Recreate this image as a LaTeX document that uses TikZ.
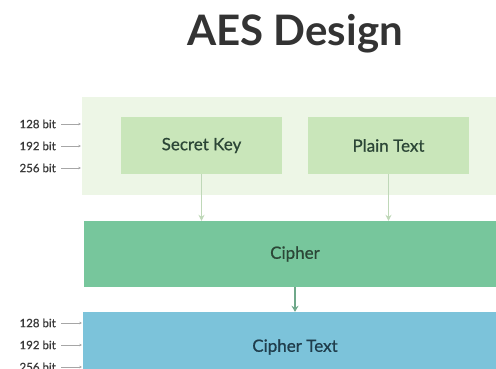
\documentclass[tikz,border=0pt]{standalone}
\usepackage{fontspec}
\setmainfont{Lato}
\newfontfamily\medfont{Lato}[FakeBold=0.7]
\usetikzlibrary{arrows.meta}
\definecolor{outerbg}{HTML}{EDF6E6}
\definecolor{innerbg}{HTML}{C9E6BA}
\definecolor{cipherbg}{HTML}{77C69C}
\definecolor{ctextbg}{HTML}{7CC3DA}
\definecolor{titlecol}{HTML}{333333}
\definecolor{greentext}{HTML}{2B4636}
\definecolor{bluetext}{HTML}{1F3D4C}
\definecolor{lightarrow}{HTML}{BFD8B8}
\definecolor{darkarrow}{HTML}{6FA88A}
\definecolor{labelcol}{HTML}{3A3A3A}
\tikzset{
  box/.style={draw=none, inner sep=0pt, align=center},
  boxtext/.style={font=\medfont\fontsize{17}{20}\selectfont},
  bitlabel/.style={font=\medfont\fontsize{11.5}{13}\selectfont, text=labelcol, anchor=east, inner sep=0pt},
  bitarrow/.style={draw=gray!70, line width=0.6pt, -{Stealth[length=2.5pt,width=2.5pt]}, shorten <=5pt, shorten >=1pt},
  lightflow/.style={draw=lightarrow, line width=1.6pt, -{Stealth[length=6pt,width=6pt]}},
  darkflow/.style={draw=darkarrow, line width=1.8pt, -{Stealth[length=6pt,width=7pt]}}
}
\begin{document}
\begin{tikzpicture}[x=1pt,y=-1pt]
\useasboundingbox (0,0) rectangle (496,369);
\fill[white] (0,0) rectangle (496,369);
% title
\node[font=\fontsize{42}{48}\bfseries\selectfont, text=titlecol] (title) at (295,34) {AES Design};
% outer light box
\node[box, fill=outerbg, minimum width=426pt, minimum height=98pt] (outer) at (295,146) {};
% inner boxes
\node[box, boxtext, fill=innerbg, text=greentext, minimum width=161pt, minimum height=57pt] (sk) at (201.5,145.5) {Secret Key};
\node[box, boxtext, fill=innerbg, text=greentext, minimum width=161pt, minimum height=57pt] (pt) at (388.5,145.5) {Plain Text};
% cipher
\node[box, boxtext, fill=cipherbg, text=greentext, minimum width=422pt, minimum height=66pt] (cipher) at (295,254) {Cipher};
% cipher text
\node[box, fill=ctextbg, minimum width=424pt, minimum height=80pt] (ctext) at (295,352) {};
\node[boxtext, text=bluetext, inner sep=0pt] (ctextlabel) at (295,347) {Cipher Text};
% flow arrows
\draw[lightflow] (sk.south) -- (sk.south |- cipher.north);
\draw[lightflow] (pt.south) -- (pt.south |- cipher.north);
\draw[darkflow] (cipher.south) -- (ctext.north);
% bit labels top
\node[bitlabel] (a1) at (56,124) {128 bit};
\node[bitlabel] (a2) at (56,146) {192 bit};
\node[bitlabel] (a3) at (56,168) {256 bit};
\draw[bitarrow] (a1.east) -- (a1.east -| outer.west);
\draw[bitarrow] (a2.east) -- (a2.east -| outer.west);
\draw[bitarrow] (a3.east) -- (a3.east -| outer.west);
% bit labels bottom
\node[bitlabel] (c1) at (56,323) {128 bit};
\node[bitlabel] (c2) at (56,345) {192 bit};
\node[bitlabel] (c3) at (56,367) {256 bit};
\draw[bitarrow] (c1.east) -- (c1.east -| ctext.west);
\draw[bitarrow] (c2.east) -- (c2.east -| ctext.west);
\draw[bitarrow] (c3.east) -- (c3.east -| ctext.west);
\end{tikzpicture}
\end{document}
